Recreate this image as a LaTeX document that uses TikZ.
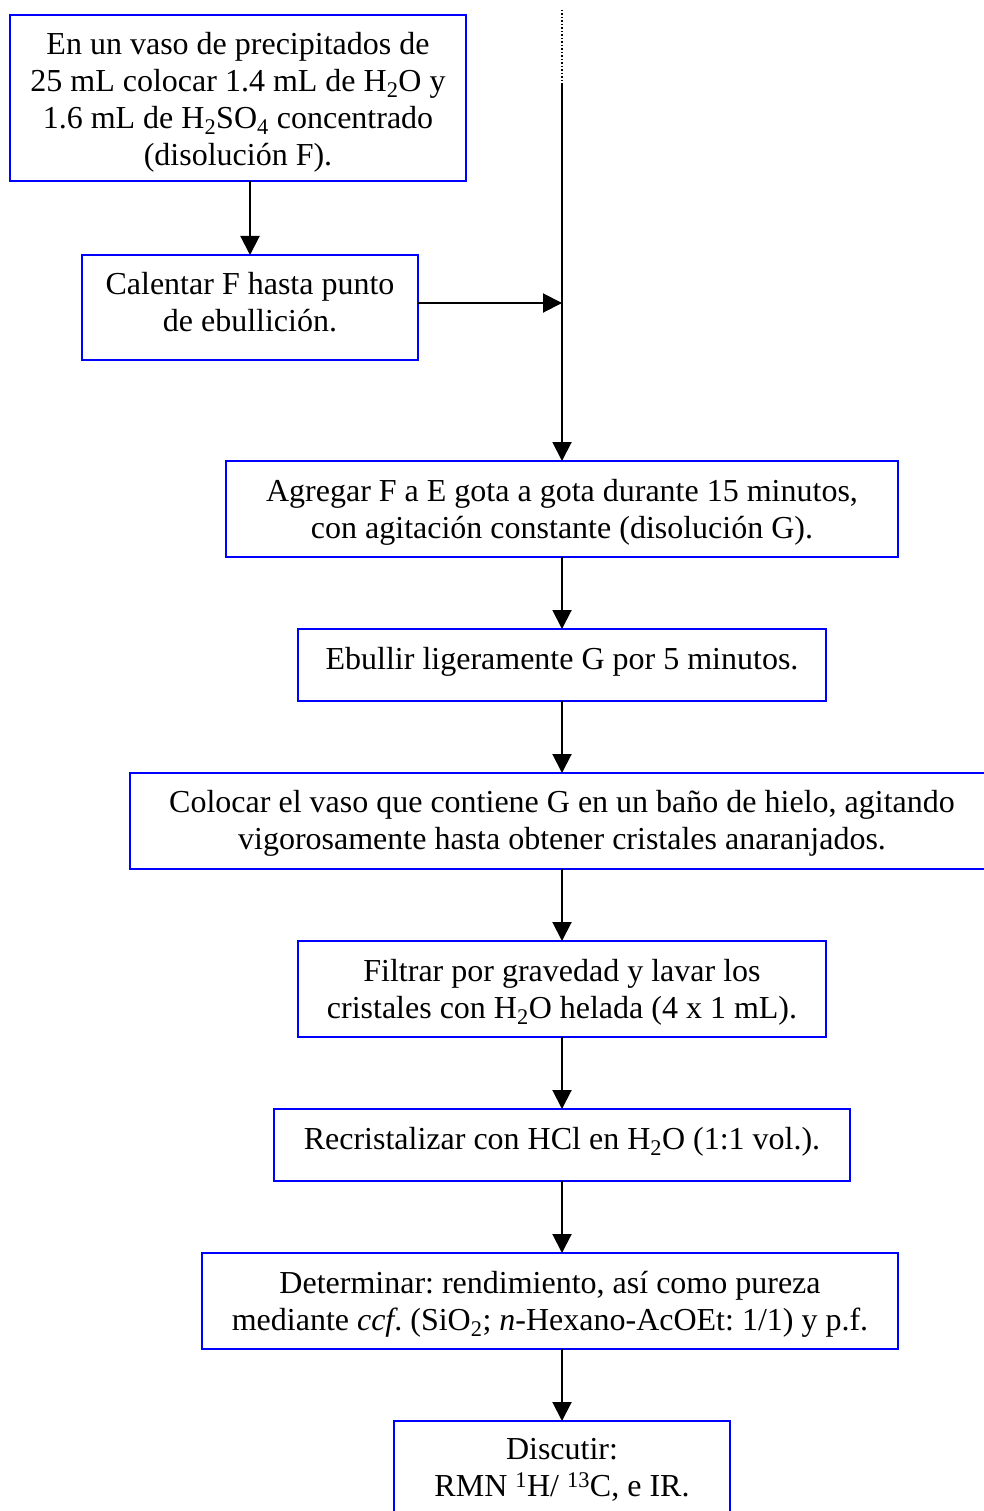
\documentclass[tikz,border=0pt]{standalone}
\usepackage{fontspec}
\setmainfont{Liberation Serif}
\usetikzlibrary{arrows.meta}
\frenchspacing
\begin{document}
\begin{tikzpicture}[x=1pt,y=-1pt,
  stepbox/.style={draw=blue,line width=2pt,fill=none,inner sep=0pt,outer sep=0pt},
  txt/.style={anchor=north,align=center,inner sep=0pt,font=\fontsize{32}{37}\selectfont\frenchspacing},
  flow/.style={line width=2pt,-{Triangle[length=19pt,width=19pt]}}]
\useasboundingbox (0,0) rectangle (984,1511);

% process boxes
\node[stepbox,minimum width=456pt,minimum height=166pt] (A) at (238,98) {};
\node[stepbox,minimum width=336pt,minimum height=105pt] (B) at (250,307.5) {};
\node[stepbox,minimum width=672pt,minimum height=96pt] (C) at (562,509) {};
\node[stepbox,minimum width=528pt,minimum height=72pt] (D) at (562,665) {};
\node[stepbox,minimum width=864pt,minimum height=96pt] (E) at (562,821) {};
\node[stepbox,minimum width=528pt,minimum height=96pt] (F) at (562,989) {};
\node[stepbox,minimum width=576pt,minimum height=72pt] (G) at (562,1145) {};
\node[stepbox,minimum width=696pt,minimum height=96pt] (H) at (550,1301) {};
\node[stepbox,minimum width=336pt,minimum height=100pt] (I) at (562,1471) {};

% box texts
\node[txt] (tA) at (238,28) {\strut En un vaso de precipitados de\\ 25 mL colocar 1.4 mL de H\textsubscript{2}O y\\ 1.6 mL de H\textsubscript{2}SO\textsubscript{4} concentrado\\ (disolución F).};
\node[txt] (tB) at (250,268) {\strut Calentar F hasta punto\\ de ebullición.};
\node[txt] (tC) at (562,475) {\strut Agregar F a E gota a gota durante 15 minutos,\\ con agitación constante (disolución G).};
\node[txt] (tD) at (562,643) {\strut Ebullir ligeramente G por 5 minutos.};
\node[txt] (tE) at (562,786) {\strut Colocar el vaso que contiene G en un baño de hielo, agitando\\ vigorosamente hasta obtener cristales anaranjados.};
\node[txt] (tF) at (562,955) {\strut Filtrar por gravedad y lavar los\\ cristales con H\textsubscript{2}O helada (4 x 1 mL).};
\node[txt] (tG) at (562,1123) {\strut Recristalizar con HCl en H\textsubscript{2}O (1:1 vol.).};
\node[txt] (tH) at (550,1267) {\strut Determinar: rendimiento, así como pureza\\ mediante \emph{ccf}. (SiO\textsubscript{2}; \emph{n}-Hexano-AcOEt: 1/1) y p.f.};
\node[txt] (tI) at (562,1433) {\strut Discutir:\\ RMN \textsuperscript{1}H/ \textsuperscript{13}C, e IR.};

% incoming main line and junction
\coordinate (top) at (562,10);
\coordinate (mid) at (562,85);
\coordinate (j) at (562,303);
\draw[line width=1.5pt,dash pattern=on 1.5pt off 2pt] (top) -- (mid);
\draw[flow] (mid) -- (C.north);

% connectors
\draw[flow] (B.north |- A.south) -- (B.north);
\draw[flow] (B.east |- j) -- (j);
\draw[flow] (C.south) -- (D.north);
\draw[flow] (D.south) -- (E.north);
\draw[flow] (E.south) -- (F.north);
\draw[flow] (F.south) -- (G.north);
\draw[flow] (G.south) -- (H.north -| G.south);
\draw[flow] (H.south -| I.north) -- (I.north);
\end{tikzpicture}
\end{document}
